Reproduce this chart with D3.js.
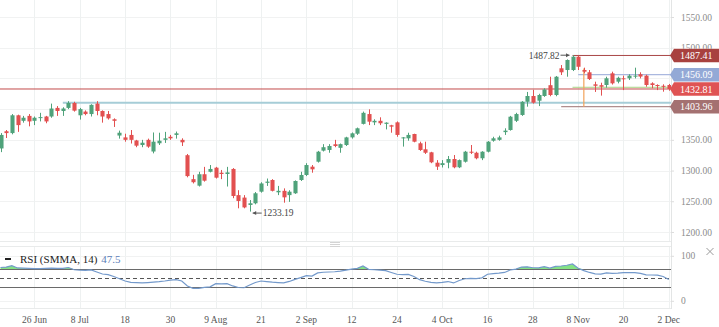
<!DOCTYPE html>
<html>
<head>
<meta charset="utf-8">
<script src="https://cdn.jsdelivr.net/npm/d3@7"></script>
<style>
  html, body { margin: 0; padding: 0; background: #fff; }
  svg { display: block; font-family: "Liberation Serif", "DejaVu Serif", serif; }
</style>
</head>
<body>
<svg id="chart" width="719" height="327"></svg>
<script>
// Daily OHLC candles, one entry per session (oldest first)
const open = [
  1336, 1364, 1361, 1390, 1381, 1389, 1381, 1386, 1388, 1388,
  1402, 1397, 1402, 1410, 1390, 1396, 1392, 1409, 1397, 1392,
  1383.5, 1357, 1354, 1358, 1349, 1341.6, 1350, 1331, 1344.4, 1350,
  1355, 1358, 1350, 1325, 1286, 1275.4, 1294, 1298, 1304.7, 1296.5,
  1294.4, 1302.6, 1260, 1256, 1244, 1246.7, 1265.6, 1280, 1284.6, 1264.6,
  1267, 1260, 1263, 1284.6, 1292.8, 1306.3, 1314.4, 1332.4, 1333.5, 1342.8,
  1337, 1341.6, 1354, 1360, 1376, 1392, 1378.5, 1381, 1376, 1373.7,
  1378.5, 1352.5, 1352.5, 1359.5, 1344.4, 1334.6, 1329.7, 1312.8, 1309, 1312.8,
  1318.8, 1305.3, 1314.4, 1330.7, 1329, 1320, 1330.7, 1348.6, 1350, 1362.6,
  1366, 1381, 1390.5, 1412, 1421.4, 1413.7, 1421.4, 1439, 1423, 1466.5,
  1463.7, 1463.7, 1485.4, 1463.7, 1460, 1440.4, 1439, 1439.3, 1458.3, 1444.7,
  1450.2, 1450.2, 1453, 1456.8, 1454.5, 1442, 1439.3, 1438, 1439.3
];
const high = [
  1361, 1366, 1392, 1391, 1389, 1392, 1388, 1394, 1389, 1409,
  1405, 1403, 1413, 1412, 1402, 1398, 1408, 1413, 1398, 1397,
  1385, 1365, 1360, 1366, 1350, 1350, 1352, 1362, 1361.6, 1363,
  1358, 1363.5, 1352.5, 1327, 1293, 1298, 1306, 1309, 1306, 1301,
  1306, 1304, 1268, 1260, 1252, 1265, 1281, 1287, 1286, 1275,
  1271, 1268, 1284, 1298, 1312, 1309, 1332, 1343, 1343, 1350,
  1344, 1355, 1362, 1370, 1396, 1399.7, 1383.5, 1386.7, 1378.5, 1374.5,
  1380, 1354.5, 1361.6, 1360, 1347, 1347, 1330.5, 1317, 1317, 1323.7,
  1325.3, 1318, 1332, 1341.6, 1330.7, 1331.5, 1348, 1355, 1356.8, 1368.8,
  1389, 1394, 1413, 1428, 1431.5, 1425, 1434, 1452.8, 1454, 1471.8,
  1481, 1487.82, 1487, 1467.5, 1463.7, 1444.7, 1443, 1452.8, 1461, 1452.8,
  1454.5, 1456.8, 1467.5, 1460, 1456, 1443.7, 1440.4, 1440.4, 1441
];
const low = [
  1330, 1353, 1359, 1363, 1378, 1372, 1374, 1380, 1377, 1386,
  1389, 1389, 1400, 1396, 1383, 1390, 1388, 1390, 1378, 1383,
  1371, 1352, 1347, 1344, 1338, 1338, 1337, 1328, 1341.6, 1345,
  1350, 1352, 1340, 1289, 1279, 1274, 1282, 1297, 1287, 1286,
  1274, 1255, 1238.5, 1238.5, 1233.19, 1245, 1264, 1275, 1266, 1260,
  1247.7, 1249, 1262, 1283, 1291, 1296.5, 1313, 1331, 1329, 1338,
  1329, 1340, 1352, 1358, 1375, 1374, 1374, 1374, 1367, 1361.6,
  1355, 1339, 1348.6, 1346, 1332, 1327, 1312, 1301, 1305, 1303.7,
  1303.7, 1304, 1313, 1327, 1318.3, 1317, 1329.5, 1347, 1348.6, 1358,
  1365, 1379, 1389, 1404, 1409, 1405, 1420, 1421, 1421, 1455.6,
  1452.8, 1462, 1463.7, 1458.3, 1447.4, 1428, 1422, 1435, 1440, 1442,
  1431, 1447.4, 1450, 1450, 1436.5, 1434, 1431, 1428.4, 1430
];
const close = [
  1358, 1361, 1390, 1374, 1386, 1380, 1386, 1387, 1380, 1401,
  1397, 1401, 1410, 1397.5, 1400, 1392, 1407, 1397, 1388, 1385,
  1381, 1361.6, 1350, 1350, 1340.5, 1345.3, 1339, 1347, 1348.6, 1352.5,
  1352.5, 1360.6, 1346, 1291, 1281, 1294, 1283.5, 1302.6, 1288.4, 1294.4,
  1297, 1258.6, 1250.5, 1240, 1246.7, 1263, 1279, 1282, 1267, 1267,
  1256.4, 1265.6, 1283, 1292.8, 1309, 1302, 1330.7, 1338, 1340, 1340,
  1343, 1354, 1360.6, 1368.8, 1394, 1379.6, 1381, 1377, 1378, 1371.5,
  1358, 1354, 1358, 1347, 1333.5, 1329, 1313.4, 1306.3, 1312, 1318.8,
  1305.3, 1317, 1330.7, 1329, 1320, 1330.7, 1347, 1352.5, 1354, 1365,
  1387.7, 1392, 1412, 1421.4, 1410.5, 1423, 1432, 1423, 1452.8, 1460,
  1480, 1485.4, 1469, 1461, 1449, 1438, 1436.5, 1450.2, 1442, 1451,
  1448.6, 1454.5, 1454.5, 1453, 1439.3, 1439.3, 1437.7, 1436.5, 1432.81
];
// RSI (SMMA, 14) per session
const rsi = [
  74, 75, 78, 73, 72.5, 72, 71.5, 71.5, 72, 72.5,
  72, 72, 74, 69, 68, 67.7, 68.5, 64, 59.5, 58,
  54, 49, 44, 41, 40.5, 39.7, 40.5, 41.5, 42.5, 44,
  46, 47, 44, 33, 27.7, 27.5, 30, 31, 38, 37.5,
  38, 33, 29.5, 29, 35, 40.7, 44, 42.8, 41.5, 40.5,
  39.7, 43, 47.7, 51.4, 55.8, 55, 62, 63.5, 64, 64.5,
  66, 68, 70.5, 72.2, 77.3, 70, 69, 68, 67, 63,
  59, 58, 58.5, 54, 47, 43.5, 41, 39.7, 41, 42.8,
  39.7, 45, 49, 50, 49.5, 51, 59, 60.5, 61.5, 63,
  68.4, 70.5, 75, 75.5, 73.5, 73, 75.9, 72.6, 76.5, 77.3,
  79, 81.8, 72.5, 67, 63, 60, 59.5, 62, 61, 61.5,
  62.5, 62.5, 62.5, 61, 57.5, 57.3, 57, 54, 47.5
];

// Date labels and the session each one sits under
const dateLabels = ["26 Jun", "8 Jul", "18", "30", "9 Aug", "21", "2 Sep", "12",
                    "24", "4 Oct", "16", "28", "8 Nov", "20", "2 Dec"];
const dateIndex  = [6, 14, 22, 30, 38, 46, 54, 62, 70, 78, 86, 94, 102, 110, 118];

const priceTicks = [1200, 1250, 1300, 1350, 1400, 1450, 1500, 1550];
const rsiTicks = [0, 100];
const rsiLevels = [70, 50, 30];

// Horizontal price levels and the session each one starts from
const levelPrices  = [1432.81, 1410.5, 1435.6, 1487.41, 1456.09, 1403.96];
const levelStart   = [0, 11, 101, 101, 102, 99];
// Right-hand price tags
const tagPrices = [1487.41, 1456.09, 1432.81, 1403.96];
const tagColors = ["#a8413f", "#93a9d6", "#df5353", "#a47171"];

const lastRsi = rsi[rsi.length - 1];
const n = close.length;

// ---- layout ----
const svg = d3.select("#chart");
const plotRight = 671;
const mainTop = 0, mainBottom = 241;
const rsiTop = 247, rsiBottom = 309;
const tagH = 13.5;

const step = 5.65, firstCenter = 1.3;
const x = d3.scaleBand()
  .domain(d3.range(n))
  .range([firstCenter - step / 2, firstCenter - step / 2 + n * step])
  .paddingInner(0.28);
const cx = i => x(i) + x.bandwidth() / 2;

const y = d3.scaleLinear().domain([1185.3, 1577.7]).range([mainBottom, mainTop]);
const yr = d3.scaleLinear().domain([0, 100]).range([300.8, 255.8]);

const upColor = "#4fa27a", downColor = "#e25050";
const gridColor = "#eef1f1";

const defs = svg.append("defs");
defs.append("clipPath").attr("id", "mainClip")
  .append("rect").attr("x", 0).attr("y", mainTop).attr("width", plotRight).attr("height", mainBottom - mainTop);
defs.append("clipPath").attr("id", "rsiClip")
  .append("rect").attr("x", 0).attr("y", rsiTop).attr("width", plotRight).attr("height", rsiBottom - rsiTop);

// price-axis labels show only in the gaps between the price tags
// (clip rects are in the axis group's local space, which starts at plotRight)
const tagSpans = tagPrices.map(p => [y(p) - tagH / 2, y(p) + tagH / 2]).sort((a, b) => a[0] - b[0]);
const gaps = [];
let prevEnd = 0;
tagSpans.forEach(([t, b]) => { if (t > prevEnd) gaps.push([prevEnd, t]); prevEnd = Math.max(prevEnd, b); });
gaps.push([prevEnd, mainBottom]);
defs.append("clipPath").attr("id", "axisClip").selectAll("rect").data(gaps).join("rect")
  .attr("x", 0).attr("width", 719 - plotRight)
  .attr("y", d => d[0]).attr("height", d => d[1] - d[0]);

// ---- grid ----
const grid = svg.append("g");
grid.selectAll("line.hg").data(priceTicks).join("line")
  .attr("x1", 0).attr("x2", plotRight)
  .attr("y1", d => Math.round(y(d)) + 0.5).attr("y2", d => Math.round(y(d)) + 0.5)
  .attr("stroke", "#f1f2f2");
grid.selectAll("line.vg").data(dateIndex).join("line")
  .attr("x1", d => Math.round(cx(d)) + 0.5).attr("x2", d => Math.round(cx(d)) + 0.5)
  .attr("y1", mainTop).attr("y2", mainBottom)
  .attr("stroke", gridColor);
grid.selectAll("line.vr").data(dateIndex).join("line")
  .attr("x1", d => Math.round(cx(d)) + 0.5).attr("x2", d => Math.round(cx(d)) + 0.5)
  .attr("y1", rsiTop).attr("y2", rsiBottom)
  .attr("stroke", gridColor);
grid.selectAll("line.rg").data(rsiTicks).join("line")
  .attr("x1", 0).attr("x2", plotRight)
  .attr("y1", d => Math.round(yr(d)) + 0.5).attr("y2", d => Math.round(yr(d)) + 0.5)
  .attr("stroke", "#f1f2f2");

// pane borders
[mainBottom + 0.5, rsiTop - 0.5, rsiBottom - 0.5].forEach(v => {
  svg.append("line").attr("x1", 0).attr("x2", plotRight).attr("y1", v).attr("y2", v).attr("stroke", "#e9ebeb");
});
svg.append("line").attr("x1", plotRight + 0.5).attr("x2", plotRight + 0.5)
  .attr("y1", 0).attr("y2", rsiBottom).attr("stroke", "#e3e5e5");

// pane resize handle
[242.5, 244.5, 246.5].forEach(v => {
  svg.append("line").attr("x1", 330).attr("x2", 340).attr("y1", v).attr("y2", v).attr("stroke", "#d4d4d4");
});

// ---- main pane ----
const main = svg.append("g").attr("clip-path", "url(#mainClip)");

// price levels
const levelColors = ["#c24b4b", "#a6cdd7", "#a9d284", "#a94545", "#aab8df", "#9c7272"];
const levelWidths = [1, 2, 1, 1, 1.2, 1];
levelPrices.forEach((p, k) => {
  main.append("line")
    .attr("x1", levelStart[k] === 0 ? 0 : cx(levelStart[k])).attr("x2", plotRight)
    .attr("y1", y(p)).attr("y2", y(p))
    .attr("stroke", levelColors[k]).attr("stroke-width", levelWidths[k]);
});
// vertical marker below the top
main.append("line")
  .attr("x1", cx(103)).attr("x2", cx(103))
  .attr("y1", y(1466)).attr("y2", y(1403.96))
  .attr("stroke", "#f2a25a").attr("stroke-width", 1.2);

// candles
const candles = main.selectAll("g.candle").data(d3.range(n)).join("g");
candles.append("line")
  .attr("x1", i => Math.round(cx(i)) + 0.5).attr("x2", i => Math.round(cx(i)) + 0.5)
  .attr("y1", i => y(high[i])).attr("y2", i => y(low[i]))
  .attr("stroke", i => close[i] >= open[i] ? upColor : downColor);
candles.append("rect")
  .attr("x", i => Math.round(cx(i)) + 0.5 - x.bandwidth() / 2)
  .attr("width", x.bandwidth())
  .attr("y", i => y(Math.max(open[i], close[i])))
  .attr("height", i => Math.max(1, Math.abs(y(open[i]) - y(close[i]))))
  .attr("fill", i => close[i] >= open[i] ? upColor : downColor);

// high / low annotations
const hiIdx = d3.maxIndex(high), loIdx = d3.minIndex(low);
const noteColor = "#555";
const arrow = (g, x1, x2, yy) => {
  g.append("line").attr("x1", x1).attr("x2", x2).attr("y1", yy).attr("y2", yy).attr("stroke", noteColor);
  const dir = Math.sign(x2 - x1);
  g.append("path")
    .attr("d", `M${x2},${yy} L${x2 - dir * 3.5},${yy - 2} L${x2 - dir * 3.5},${yy + 2} Z`)
    .attr("fill", noteColor);
};
const notes = svg.append("g");
const hiY = y(high[hiIdx]);
arrow(notes, cx(hiIdx) - 12, cx(hiIdx) - 3, hiY);
notes.append("text").attr("x", cx(hiIdx) - 13).attr("y", hiY).attr("dy", "0.35em")
  .attr("text-anchor", "end").attr("font-size", 9.5).attr("fill", "#444")
  .text(d3.format(".2f")(high[hiIdx]));
const loY = y(low[loIdx]) + 1.5;
arrow(notes, cx(loIdx) + 12, cx(loIdx) + 3, loY);
notes.append("text").attr("x", cx(loIdx) + 13).attr("y", loY).attr("dy", "0.35em")
  .attr("text-anchor", "start").attr("font-size", 9.5).attr("fill", "#444")
  .text(d3.format(".2f")(low[loIdx]));

// right price axis (labels whose centre falls inside a price tag are left out,
// the rest are clipped to the gaps between the tags)
const yAxis = d3.axisRight(y)
  .tickValues(priceTicks.filter(t => tagSpans.every(([a, b]) => y(t) < a || y(t) > b)))
  .tickFormat(d3.format(".2f"))
  .tickSize(3).tickPadding(7);
const yAxisG = svg.append("g").attr("transform", `translate(${plotRight},0)`)
  .attr("clip-path", "url(#axisClip)").call(yAxis);
yAxisG.select(".domain").remove();
yAxisG.selectAll(".tick line").attr("stroke", "#dddddd");
yAxisG.selectAll(".tick text").attr("fill", "#8c8c8c").attr("font-size", 9.5)
  .attr("font-family", "Liberation Serif, serif");

// price tags
const tags = svg.append("g");
tagPrices.forEach((p, k) => {
  const yc = y(p), x0 = plotRight - 1;
  tags.append("path")
    .attr("d", `M${x0},${yc} L${x0 + 4},${yc - tagH / 2} L719,${yc - tagH / 2} L719,${yc + tagH / 2} L${x0 + 4},${yc + tagH / 2} Z`)
    .attr("fill", tagColors[k]);
  tags.append("text").attr("x", 680).attr("y", yc).attr("dy", "0.36em")
    .attr("fill", "#fff").attr("font-size", 10).text(d3.format(".2f")(p));
});

// ---- RSI pane ----
const rsiG = svg.append("g").attr("clip-path", "url(#rsiClip)");
const overbought = d3.area()
  .x((d, i) => cx(i))
  .y0(yr(70))
  .y1(d => yr(Math.max(d, 70)));
rsiG.append("path").datum(rsi).attr("d", overbought).attr("fill", "#84e284");

rsiLevels.forEach(v => {
  rsiG.append("line").attr("x1", 0).attr("x2", plotRight)
    .attr("y1", Math.round(yr(v)) + 0.5).attr("y2", Math.round(yr(v)) + 0.5)
    .attr("stroke", v === 50 ? "#555" : "#6a6a6a")
    .attr("stroke-dasharray", v === 50 ? "4,3" : null);
});

const rsiLine = d3.line().x((d, i) => cx(i)).y(d => yr(d));
rsiG.append("path").datum(rsi).attr("d", rsiLine)
  .attr("fill", "none").attr("stroke", "#7399cb").attr("stroke-width", 1.2);

const rAxis = d3.axisRight(yr).tickValues(rsiTicks).tickFormat(d3.format("d"))
  .tickSize(3).tickPadding(7);
const rAxisG = svg.append("g").attr("transform", `translate(${plotRight},0)`).call(rAxis);
rAxisG.select(".domain").remove();
rAxisG.selectAll(".tick line").attr("stroke", "#dddddd");
rAxisG.selectAll(".tick text").attr("fill", "#8c8c8c").attr("font-size", 9.5)
  .attr("font-family", "Liberation Serif, serif");

// legend
const legend = svg.append("g");
legend.append("rect").attr("x", 5).attr("y", 258).attr("width", 6).attr("height", 2).attr("fill", "#222");
const lt = legend.append("text").attr("x", 20).attr("y", 262.5).attr("font-size", 11);
lt.append("tspan").attr("fill", "#222").text("RSI (SMMA, 14)");
lt.append("tspan").attr("fill", "#5b7db8").attr("dx", 4).text(d3.format(".1f")(lastRsi));

// close icon
const cg = svg.append("g").attr("stroke", "#9a9a9a").attr("stroke-width", 1);
cg.append("line").attr("x1", 706.5).attr("y1", 248).attr("x2", 713.5).attr("y2", 255);
cg.append("line").attr("x1", 713.5).attr("y1", 248).attr("x2", 706.5).attr("y2", 255);

// date axis
const xAxis = d3.axisBottom(x).tickValues(dateIndex)
  .tickFormat(i => dateLabels[dateIndex.indexOf(i)])
  .tickSize(0).tickPadding(7);
const xAxisG = svg.append("g").attr("transform", `translate(0,${rsiBottom})`).call(xAxis);
xAxisG.select(".domain").remove();
xAxisG.selectAll(".tick text").attr("fill", "#555").attr("font-size", 9.5)
  .attr("font-family", "Liberation Serif, serif");
</script>
</body>
</html>
